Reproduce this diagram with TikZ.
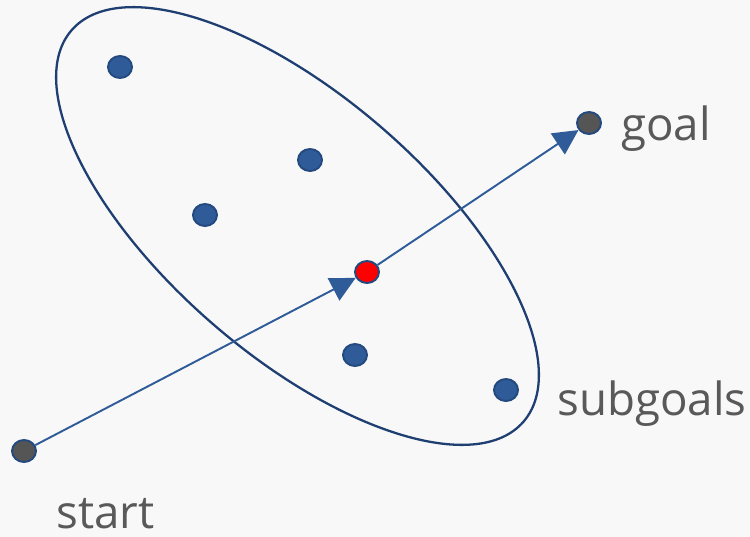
\documentclass[tikz,border=0pt]{standalone}
\usepackage{fontspec}
\setmainfont{Open Sans}
\usepackage{tikz}
\usetikzlibrary{arrows.meta, positioning, shapes.geometric}

\definecolor{bgcol}{HTML}{F8F8F8}
\definecolor{dotblue}{HTML}{2F5C99}
\definecolor{dotedge}{HTML}{23497F}
\definecolor{ringcol}{HTML}{1F3F72}
\definecolor{greydot}{HTML}{555555}
\definecolor{txtcol}{HTML}{595959}

\tikzset{
  dot/.style={ellipse, draw=dotedge, line width=1.1pt, fill=dotblue,
    minimum width=0.48cm, minimum height=0.44cm, inner sep=0pt},
  enddot/.style={dot, fill=greydot},
  middot/.style={dot, fill=red},
  lbl/.style={text=txtcol, font=\fontsize{26}{30}\selectfont, inner sep=0pt},
  arr/.style={dotblue, line width=1.1pt, -{Triangle[length=0.5cm, width=0.5cm]}}
}

\begin{document}
\begin{tikzpicture}[x=0.02cm, y=-0.02cm]
  % Background
  \fill[bgcol] (0,0) rectangle (750,537);
  \useasboundingbox (0,0) rectangle (750,537);

  % Subgoal region
  \draw[ringcol, line width=1.3pt] (297.5,226) ellipse [x radius=5.98cm, y radius=2.59cm, rotate=-40.9];

  % Points
  \node[enddot] (start) at (24,451) {};
  \node[enddot] (goal) at (589,123) {};
  \node[middot] (mid) at (367,272) {};
  \node[dot] (s1) at (120,67) {};
  \node[dot] (s2) at (310,160) {};
  \node[dot] (s3) at (205,215) {};
  \node[dot] (s4) at (355,355) {};
  \node[dot] (s5) at (506,390) {};

  % Path through the chosen subgoal
  \draw[arr] (start) -- (mid);
  \draw[arr] (mid) -- (goal);

  % Labels
  \node[lbl, anchor=base west] (startlbl) at (56,528) {start};
  \node[lbl, anchor=base west] (goallbl) at (621,140) {goal};
  \node[lbl, anchor=base west] (sublbl) at (557,415) {subgoals};
\end{tikzpicture}
\end{document}
